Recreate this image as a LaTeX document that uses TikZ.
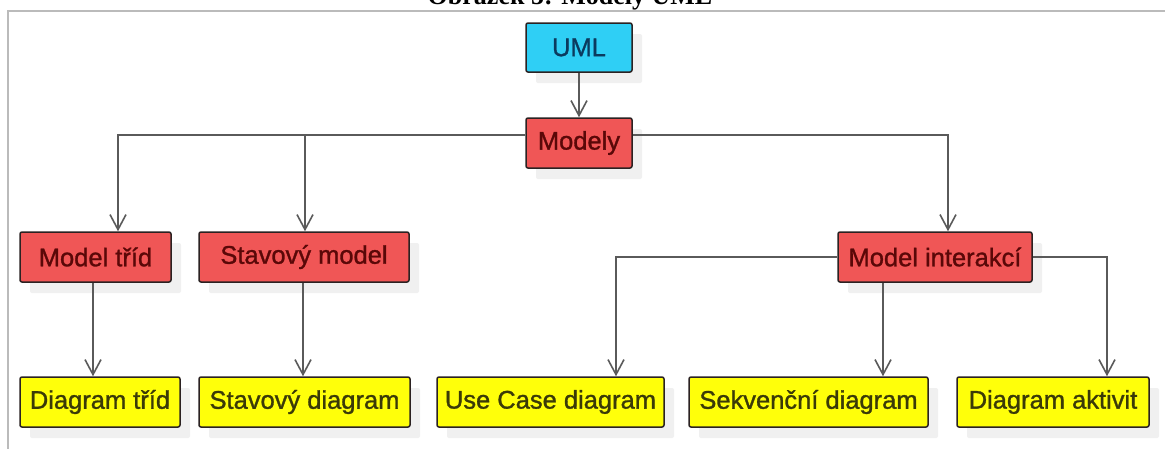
\documentclass[tikz,border=0pt]{standalone}
\usepackage{fontspec}
\setmainfont{Liberation Sans}
\newfontfamily\boxfont[FakeBold=1.2]{Liberation Sans}
\newfontfamily\captionfont{Liberation Serif}
\usetikzlibrary{arrows.meta,shadows}

\definecolor{umlfill}{HTML}{2FCFF5}
\definecolor{umltext}{HTML}{0B3A5E}
\definecolor{redfill}{HTML}{F05656}
\definecolor{redtext}{HTML}{5A0808}
\definecolor{yelfill}{HTML}{FFFF0A}
\definecolor{yeltext}{HTML}{3A3A08}
\definecolor{boxline}{HTML}{2B2222}
\definecolor{wire}{HTML}{5A5A5A}
\definecolor{frameline}{HTML}{BBBBBB}

\tikzset{
  box/.style={draw=boxline, line width=1.5pt, rounded corners=2pt,
    inner sep=0pt, minimum height=50pt, font=\boxfont\fontsize{25.5}{30}\selectfont,
    drop shadow={shadow xshift=10pt, shadow yshift=-11pt, fill=black!6, opacity=1}},
  rootbox/.style={box, fill=umlfill, text=umltext, minimum height=49pt},
  modelbox/.style={box, fill=redfill, text=redtext},
  diagbox/.style={box, fill=yelfill, text=yeltext},
  conn/.style={draw=wire, line width=2pt,
    -{Straight Barb[length=15pt, width=16pt, line width=1.6pt]}}
}

\begin{document}
\begin{tikzpicture}[x=1pt, y=-1pt]
  \useasboundingbox (0,0) rectangle (1165,448);
  \clip (0,0) rectangle (1165,448);
  \fill[white] (0,0) rectangle (1165,448);

  % caption above the frame
  \node[anchor=base, inner sep=0pt, font=\captionfont\bfseries\fontsize{26}{30}\selectfont]
    (caption) at (570,4) {Obrázek 5: Modely UML};

  % frame
  \draw[frameline, line width=2pt] (8,460) -- (8,11) -- (1170,11);

  % boxes
  \node[rootbox, minimum width=106pt]  (uml)      at (579,47.5) {UML};
  \node[modelbox, minimum width=106pt] (modely)   at (579,143) {Modely};
  \node[modelbox, minimum width=151pt] (modtrid)  at (95.5,257) {Model tříd};
  \node[modelbox, minimum width=210pt] (modstav)  at (304,257) {Stavový model};
  \node[modelbox, minimum width=194pt] (modinter) at (935,257) {Model interakcí};
  \node[diagbox, minimum width=160pt]  (dtrid)    at (100,402) {Diagram tříd};
  \node[diagbox, minimum width=211pt]  (dstav)    at (304.5,402) {Stavový diagram};
  \node[diagbox, minimum width=227pt]  (duse)     at (550.5,402) {Use Case diagram};
  \node[diagbox, minimum width=239pt]  (dsekv)    at (808.5,402) {Sekvenční diagram};
  \node[diagbox, minimum width=192pt]  (dakt)     at (1053,402) {Diagram aktivit};

  % connectors
  \draw[conn] (uml.south) -- (modely.north);
  \draw[conn] ([yshift=8pt]modely.west) -| ([xshift=22.5pt]modtrid.north);
  \draw[conn] ([yshift=8pt]modely.west) -| ([xshift=1pt]modstav.north);
  \draw[conn] ([yshift=8pt]modely.east) -| ([xshift=13pt]modinter.north);
  \draw[conn] ([xshift=-2.5pt]modtrid.south) -- ([xshift=-2.5pt]modtrid.south |- dtrid.north);
  \draw[conn] ([xshift=-1pt]modstav.south) -- ([xshift=-1pt]modstav.south |- dstav.north);
  \draw[conn] ([xshift=-52pt]modinter.south) -- ([xshift=-52pt]modinter.south |- dsekv.north);
  \draw[conn] (modinter.west) -| ([xshift=65.5pt]duse.north);
  \draw[conn] (modinter.east) -| ([xshift=54pt]dakt.north);
\end{tikzpicture}
\end{document}
